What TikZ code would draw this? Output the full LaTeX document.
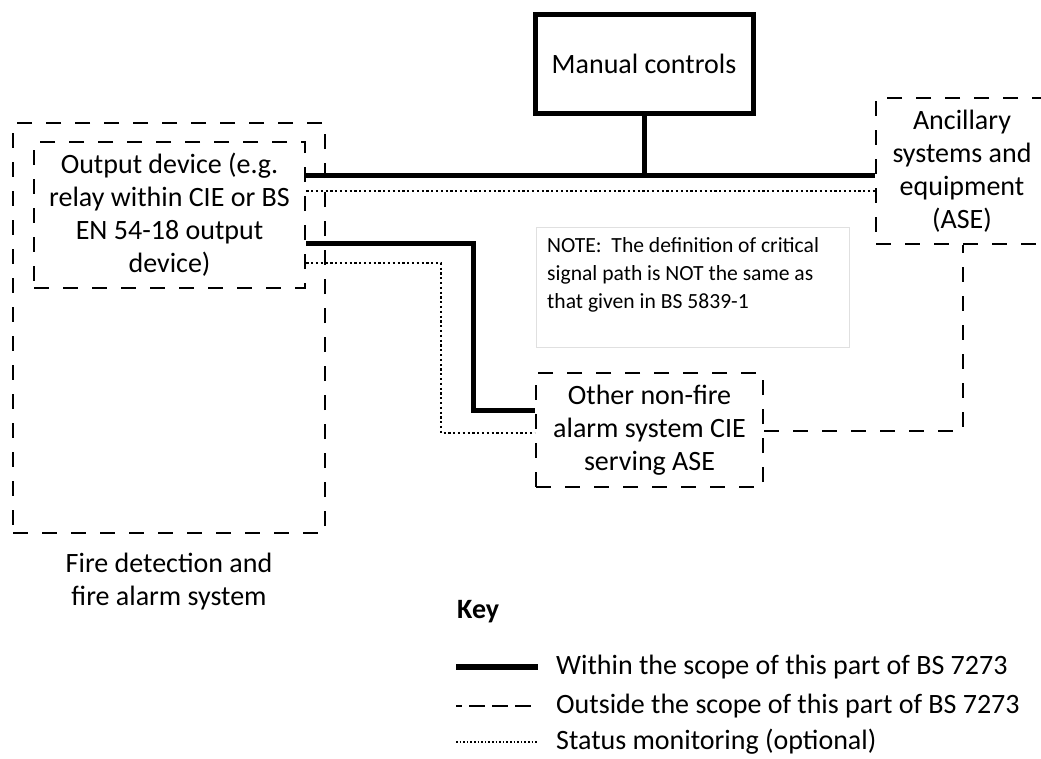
\documentclass[tikz,border=0pt]{standalone}
\usepackage{fontspec}
\setmainfont{Carlito}
\begin{document}
\begin{tikzpicture}[x=1pt,y=-1pt,
  every node/.style={font=\fontsize{28}{33}\selectfont, inner sep=0pt},
  thickline/.style={line width=5pt},
  dashline/.style={line width=2.6pt, dash pattern=on 15pt off 14pt},
  dotline/.style={line width=2.2pt, dash pattern=on 2.2pt off 2.6pt},
  solidbox/.style={draw, line width=5pt, align=center},
  dashbox/.style={draw, line width=2.6pt, dash pattern=on 15pt off 14pt, align=center},
  legtext/.style={anchor=west}
]
\useasboundingbox (0,0) rectangle (1041,758);
\fill[white] (0,0) rectangle (1041,758);

% boxes
\node[solidbox, minimum width=218pt, minimum height=99pt] (manual) at (644,63.5) {Manual controls};
\node[dashbox, minimum width=312pt, minimum height=410pt] (fds) at (169,328) {};
\node[dashbox, minimum width=271pt, minimum height=146pt] (output) at (169.5,215)
  {Output device (e.g.\\relay within CIE or BS\\EN 54-18 output\\device)};
\node[align=center, anchor=north] (fdslabel) at (169,553) {Fire detection and\\fire alarm system};
\node[dashbox, minimum width=172pt, minimum height=146pt] (ase) at (962,171)
  {Ancillary\\systems and\\equipment\\(ASE)};
\node[dashbox, minimum width=227pt, minimum height=114pt] (other) at (649.5,430)
  {Other non-fire\\alarm system CIE\\serving ASE};
\node[draw=black!12, line width=0.8pt, minimum width=313pt, minimum height=120pt] (note) at (692.5,287) {};
\node[anchor=north west, align=left, font=\fontsize{21.6}{28.3}\selectfont] (notetext) at (547,237)
  {NOTE:\ \ The definition of critical\\signal path is NOT the same as\\that given in BS 5839-1};

% connectors
\coordinate (bus) at (644,175);
\coordinate (sbus) at (644,191);
\draw[thickline] (manual.south) -- (bus);
\draw[thickline] (output.east |- bus) -- (ase.west |- bus);
\draw[dotline] (output.east |- sbus) -- (ase.west |- sbus);

\coordinate (t1) at (473,243);
\coordinate (t2) at (473,410);
\draw[thickline] (output.east |- t1) -- (t1) -- (t2) -- (other.west |- t2);

\coordinate (d1) at (441,263);
\coordinate (d2) at (441,433);
\draw[dotline] (output.east |- d1) -- (d1) -- (d2) -- (other.west |- d2);

\coordinate (k) at (963,431);
\draw[dashline] (other.east |- k) -- (k) -- (ase.south -| k);

% key
\node[anchor=west, font=\fontsize{28}{33}\selectfont\bfseries] (key) at (457,612) {Key};
\coordinate (l1a) at (456,667); \coordinate (l1b) at (538,667);
\coordinate (l2a) at (456,706); \coordinate (l2b) at (538,706);
\coordinate (l3a) at (456,742); \coordinate (l3b) at (538,742);
\draw[line width=6pt] (l1a) -- (l1b);
\draw[line width=2pt, dash pattern=on 16pt off 7pt, dash phase=10pt] (l2a) -- (l2b);
\draw[line width=1.6pt, dash pattern=on 1.6pt off 2pt] (l3a) -- (l3b);
\node[legtext] (k1) at (556,667) {Within the scope of this part of BS 7273};
\node[legtext] (k2) at (556,706) {Outside the scope of this part of BS 7273};
\node[legtext] (k3) at (556,742) {Status monitoring (optional)};
\end{tikzpicture}
\end{document}
